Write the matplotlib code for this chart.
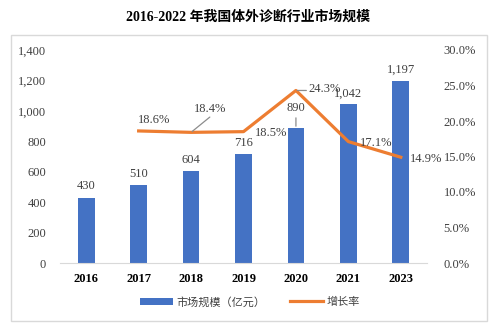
#!/usr/bin/env python
# ivd_market_size.py

import numpy as np
import matplotlib
matplotlib.use("Agg")
import matplotlib.pyplot as plt
from matplotlib.patches import Rectangle
from matplotlib.ticker import FuncFormatter

############################
# data
############################
years = ["2016", "2017", "2018", "2019", "2020", "2021", "2023"]
market_size = [430, 510, 604, 716, 890, 1042, 1197]            # 亿元
growth_rate = [np.nan, 18.6, 18.4, 18.5, 24.3, 17.1, 14.9]     # %

TITLE = "2016-2022 年我国体外诊断行业市场规模"
BAR_NAME = "市场规模（亿元）"
LINE_NAME = "增长率"

BLUE = "#4472C4"
ORANGE = "#ED7D31"
GREY = "#8C8C8C"
FONT = ["Liberation Serif", "Noto Sans CJK SC"]

plt.rcParams["font.family"] = FONT


def leader(ax, xy, dx, dy):
    # plain grey line from a data point to an offset (points)
    ax.annotate("", xy, xytext=(dx, dy), textcoords="offset points", zorder=4,
                arrowprops=dict(arrowstyle="-", color=GREY, lw=0.9,
                                patchA=None, patchB=None, shrinkA=0, shrinkB=1))


def main():
    fig = plt.figure(figsize=(4.97, 3.32), dpi=100)
    W, H = 497.0, 332.0

    # outer frame of the chart
    fig.patches.append(Rectangle((11 / W, 1 - 321 / H), 476 / W, 286 / H,
                                 transform=fig.transFigure, fill=False,
                                 edgecolor="#D9D9D9", linewidth=1.0))

    ax = fig.add_axes([60 / W, 1 - 263 / H, 367 / W, 213 / H])
    x = np.arange(len(years))

    bars = ax.bar(x, market_size, width=0.32, color=BLUE, label=BAR_NAME, zorder=2)
    ax.set_ylim(0, 1400)
    ax.set_xlim(-0.5, len(years) - 0.5)
    ax.set_yticks(np.arange(0, 1401, 200))
    ax.yaxis.set_major_formatter(FuncFormatter(lambda v, p: f"{int(v):,}"))
    ax.set_xticks(x)
    ax.set_xticklabels(years, fontweight="bold")
    ax.tick_params(axis="y", length=0, pad=10, labelsize=9, colors="#404040")
    ax.tick_params(axis="x", length=0, pad=7, labelsize=9)
    for s in ["left", "right", "top"]:
        ax.spines[s].set_visible(False)
    ax.spines["bottom"].set_color("#D9D9D9")

    # bar value labels
    for i, v in enumerate(market_size):
        dy = 14 if years[i] == "2020" else 8
        ax.annotate(f"{v:,}", (x[i], v), xytext=(0, dy), textcoords="offset points",
                    ha="center", va="center", fontsize=9, color="#404040")
    i20 = years.index("2020")
    leader(ax, (x[i20], market_size[i20]), 0, 7)

    ax2 = ax.twinx()
    line, = ax2.plot(x, growth_rate, color=ORANGE, lw=2.3, label=LINE_NAME, zorder=3)
    ax2.set_ylim(0, 30)
    ax2.set_yticks(np.arange(0, 30.1, 5))
    ax2.yaxis.set_major_formatter(FuncFormatter(lambda v, p: f"{v:.1f}%"))
    ax2.tick_params(axis="y", length=0, pad=12, labelsize=9, colors="#404040")
    for s in ["left", "right", "top", "bottom"]:
        ax2.spines[s].set_visible(False)

    # growth labels: (dx, dy) offsets in points
    offsets = {1: (11, 8), 2: (14, 17), 3: (20, -1),
               4: (21, 1), 5: (20, -1), 6: (18, -1)}
    for i, (dx, dy) in offsets.items():
        ax2.annotate(f"{growth_rate[i]:.1f}%", (x[i], growth_rate[i]), xytext=(dx, dy),
                     textcoords="offset points", ha="center", va="center",
                     fontsize=9, color="#404040", zorder=4)
    leader(ax2, (x[2], growth_rate[2]), 13.5, 11)
    leader(ax2, (x[4], growth_rate[4]), 7.5, 0)

    fig.legend([bars, line], [BAR_NAME, LINE_NAME], loc="center", ncol=2,
               bbox_to_anchor=(250 / W, 1 - 302 / H), frameon=False, fontsize=8,
               handlelength=3.0, columnspacing=2.2, handletextpad=0.3,
               labelcolor="#404040")

    fig.text(248 / W, 1 - 17 / H, TITLE, ha="center", va="center",
             fontsize=10, fontweight="bold", family=FONT)

    fig.savefig("out.png", dpi=100)


if __name__ == "__main__":
    main()
